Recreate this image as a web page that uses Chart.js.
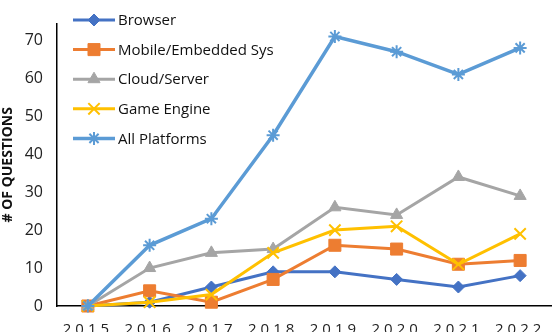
<!DOCTYPE html>
<html lang="en">
<head>
  <meta charset="UTF-8">
  <title>Questions per Platform</title>
  <script src="https://cdn.jsdelivr.net/npm/chart.js"></script>
  <style>
    html, body { margin: 0; padding: 0; background: #fff; overflow: hidden; width: 554px; height: 332px; }
    canvas { display: block; }
  </style>
</head>
<body>
  <canvas id="platformChart" width="561" height="332"></canvas>

  <script>
    // chart data
    const years = ['2015', '2016', '2017', '2018', '2019', '2020', '2021', '2022'];
    const browser = [0, 1, 5, 9, 9, 7, 5, 8];
    const mobileEmbedded = [0, 4, 1, 7, 16, 15, 11, 12];
    const cloudServer = [0, 10, 14, 15, 26, 24, 34, 29];
    const gameEngine = [0, 1, 3, 14, 20, 21, 11, 19];
    const allPlatforms = [0, 16, 23, 45, 71, 67, 61, 68];
    const yTicks = [0, 10, 20, 30, 40, 50, 60, 70];

    const FONT = "'Open Sans', 'Liberation Sans', sans-serif";

    function series(label, data, color, style, radius, width, border) {
      return {
        label: label,
        data: data,
        borderColor: color,
        backgroundColor: color,
        borderWidth: width,
        pointStyle: style,
        pointRadius: radius,
        pointBorderWidth: border,
        pointBackgroundColor: color,
        pointBorderColor: color,
        tension: 0,
        clip: false
      };
    }

    const datasets = [
      series('Browser', browser, '#4472C4', 'rectRot', 6, 3, 1),
      series('Mobile/Embedded Sys', mobileEmbedded, '#ED7D31', 'rect', 8.5, 3, 1),
      series('Cloud/Server', cloudServer, '#A5A5A5', 'triangle', 7, 3, 1),
      series('Game Engine', gameEngine, '#FFC000', 'crossRot', 8, 3, 2),
      series('All Platforms', allPlatforms, '#5B9BD5', 'star', 6.5, 3.5, 2)
    ];
    // later series drawn on top
    datasets.forEach((d, i) => { d.order = -i; });

    // legend drawn inside the plot, top left
    const insideLegend = {
      id: 'insideLegend',
      afterDraw(chart) {
        const ctx = chart.ctx;
        const x0 = 73, x1 = 115, textX = 118, top = 20, step = 29.6;
        chart.data.datasets.forEach((ds, i) => {
          const y = top + i * step;
          ctx.save();
          ctx.strokeStyle = ds.borderColor;
          ctx.lineWidth = ds.borderWidth;
          ctx.beginPath();
          ctx.moveTo(x0, y);
          ctx.lineTo(x1, y);
          ctx.stroke();
          ctx.fillStyle = ds.backgroundColor;
          ctx.strokeStyle = ds.borderColor;
          ctx.lineWidth = ds.pointBorderWidth;
          Chart.helpers.drawPoint(ctx, {
            pointStyle: ds.pointStyle,
            radius: ds.pointRadius,
            borderWidth: ds.pointBorderWidth,
            rotation: 0
          }, (x0 + x1) / 2, y);
          ctx.fillStyle = '#111';
          ctx.font = '15px ' + FONT;
          ctx.textAlign = 'left';
          ctx.textBaseline = 'middle';
          ctx.fillText(ds.label, textX, y + 1);
          ctx.restore();
        });
      }
    };

    // wide letter spacing on the year labels
    const spacedYears = {
      id: 'spacedYears',
      beforeDraw(chart) {
        const xs = chart.scales.x;
        if (xs && !xs._spaced) {
          const orig = xs.drawLabels.bind(xs);
          xs.drawLabels = function (area) {
            this.ctx.save();
            this.ctx.letterSpacing = '4px';
            orig(area);
            this.ctx.restore();
          };
          xs._spaced = true;
        }
      }
    };

    const ctx = document.getElementById('platformChart').getContext('2d');
    new Chart(ctx, {
      type: 'line',
      data: { labels: years, datasets: datasets },
      plugins: [insideLegend, spacedYears],
      options: {
        responsive: false,
        animation: false,
        layout: { padding: { top: 2, right: 0, left: 0, bottom: 0 } },
        plugins: {
          legend: { display: false },
          tooltip: { enabled: false }
        },
        scales: {
          x: {
            offset: true,
            grid: { display: false, drawTicks: false },
            border: { color: '#000', width: 1.5 },
            ticks: {
              color: '#222',
              padding: 15,
              maxRotation: 0,
              autoSkip: false,
              font: { family: FONT, size: 15 }
            },
            afterFit(scale) { scale.height = 26; }
          },
          y: {
            min: 0,
            max: 74.4,
            grid: { display: false, drawTicks: false },
            border: { color: '#000', width: 1.5 },
            afterBuildTicks(scale) { scale.ticks = yTicks.map(v => ({ value: v })); },
            ticks: {
              color: '#222',
              padding: 14,
              font: { family: FONT, size: 16 }
            },
            title: {
              display: true,
              text: '# OF QUESTIONS',
              color: '#111',
              padding: 0,
              font: { family: FONT, size: 14, weight: 'bold' }
            },
            afterFit(scale) { scale.width = 57; }
          }
        }
      }
    });
  </script>
</body>
</html>
